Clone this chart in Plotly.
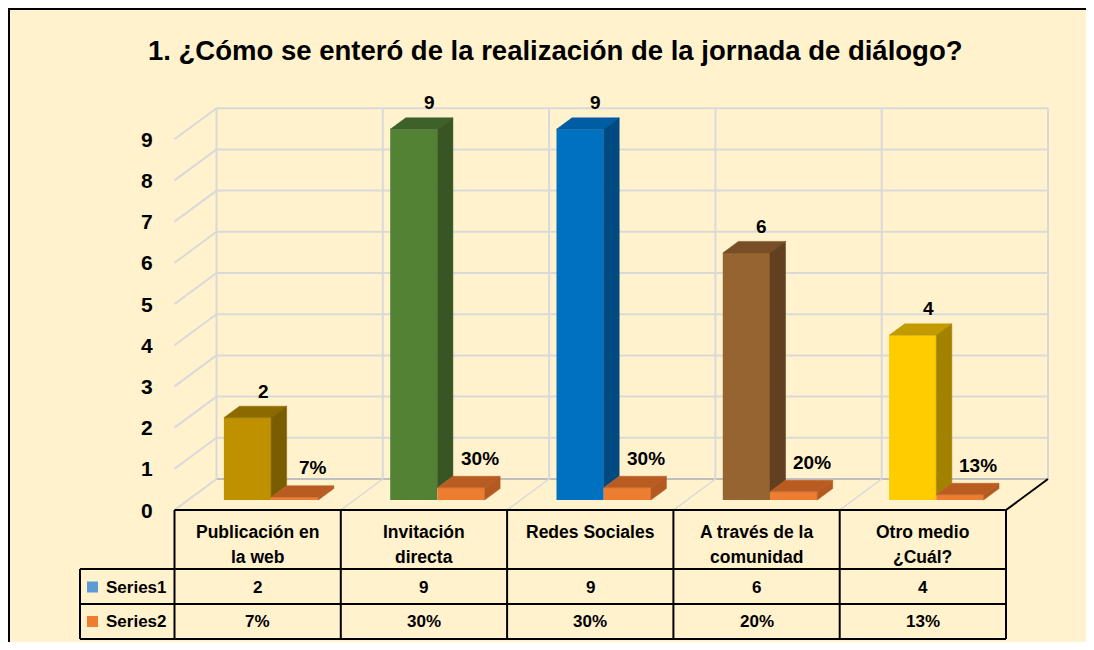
import plotly.graph_objects as go

# ---------------- data ----------------
title_text = "1. ¿Cómo se enteró de la realización de la jornada de diálogo?"
categories = ["Publicación en\nla web", "Invitación\ndirecta", "Redes Sociales",
              "A través de la\ncomunidad", "Otro medio\n¿Cuál?"]
series_names = ["Series1", "Series2"]
series1 = [2, 9, 9, 6, 4]
series2 = [0.07, 0.30, 0.30, 0.20, 0.13]
series1_text = ["2", "9", "9", "6", "4"]
series2_text = ["7%", "30%", "30%", "20%", "13%"]
y_ticks = [0, 1, 2, 3, 4, 5, 6, 7, 8, 9]

# ---------------- styles ----------------
s1_front = ["#BF9000", "#548235", "#0070C0", "#966431", "#FFCC00"]
s1_top = ["#8C6A00", "#3E6129", "#005CA3", "#774E26", "#C29B00"]
s1_side = ["#7A5D00", "#375623", "#004A82", "#613F1F", "#A38200"]
s2_front = "#ED7D31"
s2_top = "#B85C22"
s2_side = "#B45A20"
legend_keys = ["#5B9BD5", "#ED7D31"]
BG = "#FFF2CC"
GRID = "#D9D9D9"
FONT = "Liberation Sans, Arial, sans-serif"

OFF = 8                      # page (body) margin: figure starts at screen (8, 8)
W, H = 1094 - 2 * OFF, 650 - 2 * OFF   # fit the window without scrollbars
FX0, CW = 174.5, 166.3       # front-left x pixel, category width px (screen coords)
Y0, UNIT = 510.0, 41.2       # front value-0 y pixel, px per unit
DDX, DDY = 42.0, 31.0        # depth offset in px
DU, DV = DDX / CW, DDY / UNIT
D0, T = 0.32, 0.37           # bar front depth, bar thickness (fractions)
BW = 47.2 / CW               # bar width in category units


def X(px):
    return (px - FX0) / CW


def Y(py):
    return (Y0 - py) / UNIT


fig = go.Figure()
shapes = []
ann = []

# frame (top and left edges only; right/bottom run off the picture)
shapes.append(dict(type="line", xref="paper", yref="paper", x0=0, x1=1, y0=1, y1=1,
                   line=dict(color="black", width=4)))
shapes.append(dict(type="line", xref="paper", yref="paper", x0=0, x1=0, y0=0, y1=1,
                   line=dict(color="black", width=4)))

n = len(categories)
# back wall horizontal gridlines
for v in y_ticks:
    shapes.append(dict(type="line", xref="x", yref="y", x0=DU, x1=n + DU, y0=v + DV, y1=v + DV,
                       line=dict(color=GRID if v else "#BFBFBF", width=2), layer="below"))
    # left wall diagonals
    shapes.append(dict(type="line", xref="x", yref="y", x0=0, x1=DU, y0=v, y1=v + DV,
                       line=dict(color=GRID, width=2), layer="below"))
# back wall verticals
for k in range(n + 1):
    shapes.append(dict(type="line", xref="x", yref="y", x0=k + DU, x1=k + DU, y0=DV, y1=y_ticks[-1] + DV,
                       line=dict(color=GRID, width=2), layer="below"))
# floor diagonals
for k in range(1, n + 1):
    shapes.append(dict(type="line", xref="x", yref="y", x0=k, x1=k + DU, y0=0, y1=DV,
                       line=dict(color="black" if k == n else GRID, width=2 if k == n else 1.5),
                       layer="below"))

# ---------------- bars ----------------
base = D0 * DV
centers = [i + 0.5 + D0 * DU for i in range(n)]
fig.add_trace(go.Bar(x=[c - BW / 2 for c in centers], y=series1, base=base, width=BW,
                     marker=dict(color=s1_front, line=dict(width=0)), name=series_names[0],
                     showlegend=False, hoverinfo="skip"))
fig.add_trace(go.Bar(x=[c + BW / 2 for c in centers], y=series2, base=base, width=BW,
                     marker=dict(color=s2_front, line=dict(width=0)), name=series_names[1],
                     showlegend=False, hoverinfo="skip"))


def poly(pts, color):
    xs = [p[0] for p in pts] + [pts[0][0]]
    ys = [p[1] for p in pts] + [pts[0][1]]
    fig.add_trace(go.Scatter(x=xs, y=ys, mode="lines", fill="toself", fillcolor=color,
                             line=dict(color=color, width=0.5), showlegend=False, hoverinfo="skip"))


du, dv = DU * T, DV * T
for i, c in enumerate(centers):
    v1, v2 = series1[i], series2[i]
    # series 1
    l, r, top = c - BW, c, base + v1
    poly([(l, top), (r, top), (r + du, top + dv), (l + du, top + dv)], s1_top[i])
    poly([(r, base + v2), (r, top), (r + du, top + dv), (r + du, base + v2 + dv)], s1_side[i])
    ann.append(dict(x=c - BW / 2 + du, y=top + dv, text=series1_text[i], yshift=15, showarrow=False,
                    font=dict(size=19, color="black"), xanchor="center", yanchor="middle"))
    # series 2
    l, r, top = c, c + BW, base + v2
    poly([(l, top), (r, top), (r + du, top + dv), (l + du, top + dv)], s2_top)
    poly([(r, base), (r, top), (r + du, top + dv), (r + du, base + dv)], s2_side)
    ann.append(dict(x=c + BW / 2 + du, y=top + dv, text=series2_text[i], yshift=18, xshift=3,
                    showarrow=False, font=dict(size=19, color="black"),
                    xanchor="center", yanchor="middle"))

# y tick labels
for v in y_ticks:
    ann.append(dict(x=X(147), y=v, text=str(v), showarrow=False, xanchor="center", yanchor="middle",
                    font=dict(size=21, color="black")))

# ---------------- data table ----------------
row_y = [510, 569, 604, 639]
tl = dict(color="black", width=2)
shapes.append(dict(type="line", xref="x", yref="y", x0=0, x1=n, y0=Y(row_y[0]), y1=Y(row_y[0]), line=tl))
for ry in row_y[1:]:
    shapes.append(dict(type="line", xref="x", yref="y", x0=X(80), x1=n, y0=Y(ry), y1=Y(ry), line=tl))
shapes.append(dict(type="line", xref="x", yref="y", x0=X(80), x1=X(80), y0=Y(row_y[1]), y1=Y(row_y[3]), line=tl))
for k in range(n + 1):
    shapes.append(dict(type="line", xref="x", yref="y", x0=k, x1=k, y0=Y(row_y[0]), y1=Y(row_y[3]), line=tl))

for i, cat in enumerate(categories):
    for j, line in enumerate(cat.split("\n")):
        ann.append(dict(x=i + 0.5, y=Y(532 + 25 * j), text=line, showarrow=False, xanchor="center",
                        yanchor="middle", font=dict(size=17.5, color="black")))
    ann.append(dict(x=i + 0.5, y=Y(587), text=str(series1[i]), showarrow=False, xanchor="center",
                    yanchor="middle", font=dict(size=17, color="black")))
    ann.append(dict(x=i + 0.5, y=Y(621.5), text=series2_text[i], showarrow=False, xanchor="center",
                    yanchor="middle", font=dict(size=17, color="black")))

for j, (nm, col) in enumerate(zip(series_names, legend_keys)):
    cy = 587 + 34.5 * j
    shapes.append(dict(type="rect", xref="x", yref="y", x0=X(87), x1=X(98), y0=Y(cy - 5.5), y1=Y(cy + 5.5),
                       fillcolor=col, line=dict(width=0)))
    ann.append(dict(x=X(104), y=Y(cy), text=nm, showarrow=False, xanchor="left", yanchor="middle",
                    font=dict(size=17, color="black")))

# title
ann.append(dict(x=X(555), y=Y(50), text=title_text, showarrow=False, xanchor="center", yanchor="middle",
                font=dict(size=27.5, color="black")))

for a in ann:
    a["xref"] = "x"
    a["yref"] = "y"
    a["font"]["family"] = FONT
    a["text"] = "<b>" + a["text"] + "</b>"

fig.update_layout(
    width=W, height=H, margin=dict(l=0, r=0, t=0, b=0),
    paper_bgcolor=BG, plot_bgcolor=BG,
    barmode="overlay", showlegend=False,
    xaxis=dict(range=[X(OFF), X(OFF + W)], visible=False, fixedrange=True),
    yaxis=dict(range=[Y(OFF + H), Y(OFF)], visible=False, fixedrange=True),
    shapes=shapes, annotations=ann,
    font=dict(family=FONT, color="black"),
)

fig.write_html("out.html")
